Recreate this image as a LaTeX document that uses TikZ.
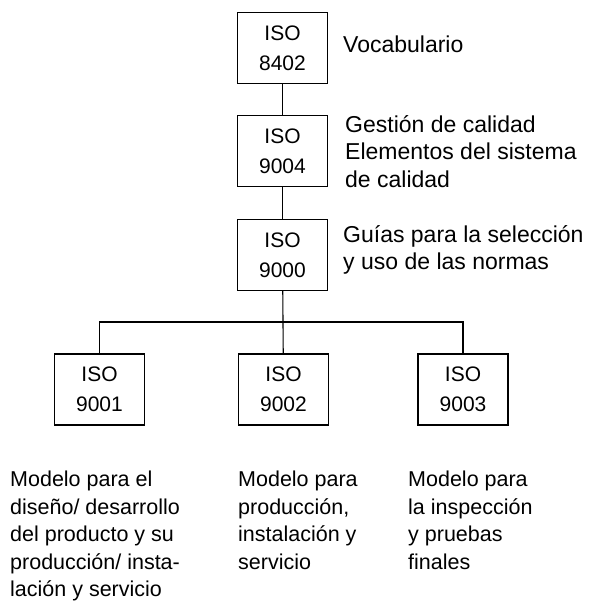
\documentclass[tikz,border=0pt]{standalone}
\usepackage{fontspec}
\setmainfont{Liberation Sans}
\begin{document}
\begin{tikzpicture}[x=1pt,y=-1pt,
  isobox/.style={draw, line width=1.3pt, minimum width=90pt, minimum height=71pt,
    inner sep=0pt, align=center, font=\fontsize{21}{30}\selectfont},
  conn/.style={line width=1.1pt},
  desc/.style={inner sep=0pt, align=left, font=\fontsize{21.5}{27.5}\selectfont},
  rdesc/.style={inner sep=0pt, align=left, font=\fontsize{23}{27.5}\selectfont}]
\useasboundingbox (0,0) rectangle (591,604);
\node[isobox] (b8402) at (282.5,48) {ISO\\8402};
\node[isobox] (b9004) at (282.5,151) {ISO\\9004};
\node[isobox] (b9000) at (282.5,255) {ISO\\9000};
\node[isobox] (b9001) at (99.5,389.5) {ISO\\9001};
\node[isobox] (b9002) at (283.5,389.5) {ISO\\9002};
\node[isobox] (b9003) at (463,389.5) {ISO\\9003};
\coordinate (bus) at (283,322);
\draw[conn] (b8402) -- (b9004);
\draw[conn] (b9004) -- (b9000);
\draw[conn] (b9000) -- (b9002);
\draw[conn] (b9001.north) |- (bus) -| (b9003.north);
\node[rdesc, anchor=base west] (t1) at (343,53) {Vocabulario};
\node[rdesc, anchor=north west] (t2) at (345,115) {Gestión de calidad\\Elementos del sistema\\de calidad};
\node[rdesc, anchor=north west] (t3) at (343,225) {Guías para la selección\\y uso de las normas};
\node[desc, anchor=north west] (t4) at (10,471) {Modelo para el\\diseño/ desarrollo\\del producto y su\\producción/ insta-\\lación y servicio};
\node[desc, anchor=north west] (t5) at (238,471) {Modelo para\\producción,\\instalación y\\servicio};
\node[desc, anchor=north west] (t6) at (408,471) {Modelo para\\la inspección\\y pruebas\\finales};
\end{tikzpicture}
\end{document}
